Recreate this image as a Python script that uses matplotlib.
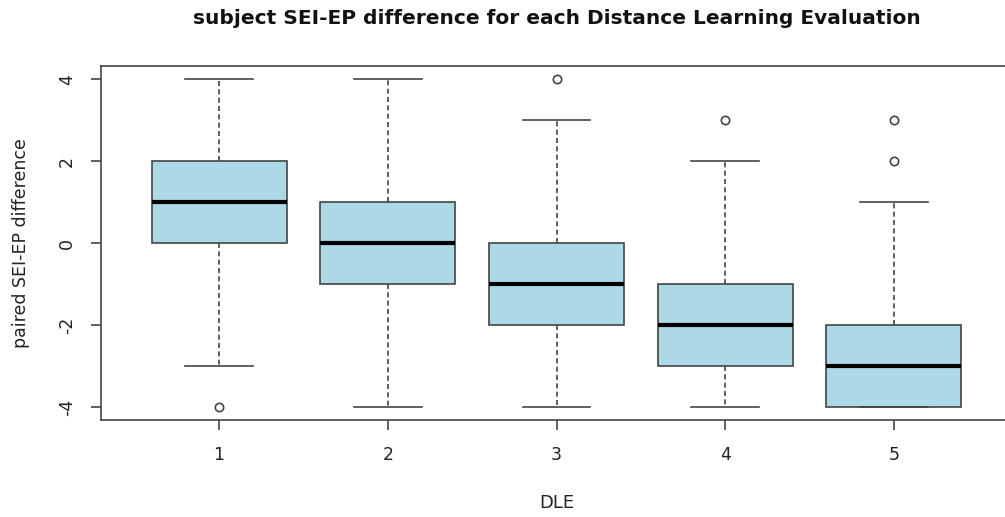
import matplotlib.pyplot as plt

# boxplot summary
groups = [1, 2, 3, 4, 5]
medians = [1, 0, -1, -2, -3]
q1 = [0, -1, -2, -3, -4]
q3 = [2, 1, 0, -1, -2]
wlo = [-3, -4, -4, -4, -4]
whi = [4, 4, 3, 2, 1]
outliers = [[-4], [], [4], [3], [2, 3]]

plt.rcParams['font.family'] = ['DejaVu Sans']
plt.rcParams['axes.unicode_minus'] = False

stats = []
for i in range(len(groups)):
    stats.append({'med': medians[i], 'q1': q1[i], 'q3': q3[i],
                  'whislo': wlo[i], 'whishi': whi[i], 'fliers': outliers[i],
                  'label': str(groups[i])})

fig = plt.figure(figsize=(10.05, 5.17), dpi=100)
ax = fig.add_axes([101/1005, 1 - 420/517, 911/1005, 354/517])

edge = '#444444'
ax.bxp(stats, positions=groups, widths=0.8, patch_artist=True,
       boxprops=dict(facecolor='#add8e6', edgecolor=edge, linewidth=1.2),
       medianprops=dict(color='black', linewidth=3),
       whiskerprops=dict(color=edge, linestyle=(0, (3, 2)), linewidth=1.2),
       capprops=dict(color=edge, linewidth=1.2),
       capwidths=0.4,
       flierprops=dict(marker='o', markerfacecolor='none', markeredgecolor=edge,
                       markersize=6, markeredgewidth=1.2))

ax.set_xlim(0.3, 5.7)
ax.set_ylim(-4.32, 4.32)
ax.set_yticks([-4, -2, 0, 2, 4])
ax.set_xticks(groups)
ax.set_xticklabels([str(g) for g in groups])
for lab in ax.get_yticklabels():
    lab.set_rotation(90)
    lab.set_va('center')
ax.tick_params(direction='out', length=7, width=1.2, color=edge,
               labelsize=12.5, labelcolor='#222222')
ax.tick_params(axis='x', pad=12)
ax.tick_params(axis='y', pad=11)
for s in ax.spines.values():
    s.set_color(edge)
    s.set_linewidth(1.2)

ax.set_title('subject SEI-EP difference for each Distance Learning Evaluation',
             fontsize=14.5, fontweight='bold', pad=30, color='#111111')
ax.set_xlabel('DLE', fontsize=13, labelpad=21, color='#222222')
ax.set_ylabel('paired SEI-EP difference', fontsize=12.5, labelpad=20, color='#222222')

fig.savefig('out.png', dpi=100)
